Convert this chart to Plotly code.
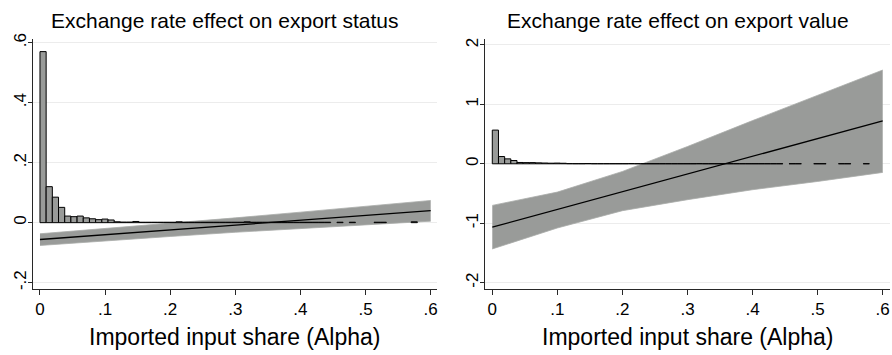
import plotly.graph_objects as go

# ---------------- data ----------------
bin_width = 0.0095
# histogram of imported input share (fraction of firms per bin), 61 bins starting at 0 (None = empty bin)
hist_status = [0.570, 0.120, 0.085, 0.051, 0.022, 0.020, 0.022, 0.016, 0.013, 0.010,
               0.012, 0.009, 0.003, 0.002, 0.002, 0.004, 0.0015, 0.0015, 0.0015, 0.0015,
               0.0015, 0.0015, 0.003, 0.0015, 0.0015, 0.0015, 0.0015, 0.0015, 0.0015, 0.0015,
               0.0015, 0.0015, 0.0015, 0.003, 0.0015, 0.0015, 0.0015, 0.0015, 0.0015, 0.0015,
               0.0015, 0.0015, 0.0015, 0.0015, 0.0015, 0.0015, 0.0015, None, 0.0015, None,
               0.0015, None, None, None, 0.0015, 0.0015, None, None, None, None,
               0.003]
hist_value = [0.567, 0.122, 0.083, 0.055, 0.022, 0.020, 0.020, 0.016, 0.013, 0.010,
              0.012, 0.009, 0.003, 0.002, 0.002, 0.004, 0.0015, 0.0015, 0.0015, 0.0015,
              0.0015, 0.0015, 0.003, 0.0015, 0.0015, 0.0015, 0.0015, 0.0015, 0.0015, 0.0015,
              0.0015, 0.0015, 0.0015, 0.003, 0.0015, 0.0015, 0.0015, 0.0015, 0.0015, 0.0015,
              0.0015, 0.0015, 0.0015, 0.0015, 0.0015, 0.0015, 0.0015, None, 0.0015, 0.0015,
              None, None, 0.0015, 0.0015, None, None, 0.0015, 0.0015, None, None,
              0.0015]

alpha_grid = [0.0, 0.1, 0.2, 0.3, 0.4, 0.5, 0.6]
# export status: marginal effect and 95% CI
status_est = [-0.056, -0.040, -0.024, -0.008, 0.008, 0.024, 0.040]
status_hi = [-0.037, -0.020, -0.002, 0.016, 0.035, 0.055, 0.074]
status_lo = [-0.076, -0.060, -0.046, -0.032, -0.019, -0.007, 0.005]
# export value: marginal effect and 95% CI
value_est = [-1.066, -0.768, -0.470, -0.172, 0.126, 0.424, 0.722]
value_hi = [-0.700, -0.476, -0.129, 0.291, 0.727, 1.158, 1.578]
value_lo = [-1.433, -1.080, -0.789, -0.604, -0.436, -0.297, -0.145]

x_ticks = [0, 0.1, 0.2, 0.3, 0.4, 0.5, 0.6]
x_ticktext = ["0", ".1", ".2", ".3", ".4", ".5", ".6"]
y1_ticks = [-0.2, 0, 0.2, 0.4, 0.6]
y1_ticktext = ["-.2", "0", ".2", ".4", ".6"]
y2_ticks = [-2, -1, 0, 1, 2]
y2_ticktext = ["-2", "-1", "0", "1", "2"]

titles = ["Exchange rate effect on export status", "Exchange rate effect on export value"]
x_title = "Imported input share (Alpha)"

# ---------------- figure ----------------
W, H = 892, 355
FONT = "Liberation Sans, Arial, Helvetica, sans-serif"
BAND = "rgb(153,155,153)"
fig = go.Figure()

centers = [bin_width * (i + 0.5) for i in range(len(hist_status))]


def px_x(p):
    return p / W


def px_y(p):
    return 1 - p / H


def add_panel(xa, ya, yh, est, hi, lo, hist):
    # CI band
    fig.add_trace(go.Scatter(x=alpha_grid, y=lo, mode="lines", line=dict(width=0.8, color="rgb(170,172,170)"),
                             xaxis=xa, yaxis=ya, showlegend=False, hoverinfo="skip"))
    fig.add_trace(go.Scatter(x=alpha_grid, y=hi, mode="lines", line=dict(width=0.8, color="rgb(170,172,170)"),
                             fill="tonexty", fillcolor=BAND,
                             xaxis=xa, yaxis=ya, showlegend=False, hoverinfo="skip"))
    fig.add_trace(go.Scatter(x=alpha_grid, y=est, mode="lines", line=dict(width=1.3, color="black"),
                             xaxis=xa, yaxis=ya, showlegend=False))
    # histogram on overlaid axis (drawn above band)
    fig.add_trace(go.Bar(x=centers, y=hist, width=bin_width,
                         marker=dict(color=BAND, line=dict(color="black", width=1)),
                         xaxis=xa, yaxis=yh, showlegend=False))


add_panel("x", "y", "y3", status_est, status_hi, status_lo, hist_status)
add_panel("x2", "y2", "y4", value_est, value_hi, value_lo, hist_value)

dom_y = [px_y(289), px_y(39)]
xd1 = [px_x(33), px_x(437)]
xd2 = [px_x(485), px_x(890)]
r_y1 = [-0.221, 0.612]
r_y2 = [-2.107, 2.10]

axis_common = dict(showline=True, linecolor="rgb(40,40,40)", linewidth=1,
                   tickcolor="rgb(40,40,40)", tickwidth=1, ticks="outside",
                   zeroline=False, automargin=False,
                   tickfont=dict(family=FONT, size=17, color="black"))

fig.update_layout(
    width=W, height=H,
    margin=dict(l=0, r=0, t=0, b=0, pad=0),
    paper_bgcolor="white", plot_bgcolor="white",
    barmode="overlay",
    showlegend=False,
    hovermode=False,
    font=dict(family=FONT, color="black"),
    xaxis=dict(domain=xd1, range=[-0.0107, 0.6097], tickvals=x_ticks, ticktext=x_ticktext,
               showgrid=False, anchor="y", ticklen=5, **axis_common),
    xaxis2=dict(domain=xd2, range=[-0.0112, 0.6112], tickvals=x_ticks, ticktext=x_ticktext,
                showgrid=False, anchor="y2", ticklen=5, **axis_common),
    yaxis=dict(domain=dom_y, range=r_y1, tickvals=y1_ticks, ticktext=y1_ticktext, tickangle=-90,
               ticklen=4, ticklabelstandoff=-5,
               showgrid=True, gridcolor="rgb(236,236,236)", gridwidth=1, anchor="x", **axis_common),
    yaxis2=dict(domain=dom_y, range=r_y2, tickvals=y2_ticks, ticktext=y2_ticktext, tickangle=-90,
                ticklen=4, ticklabelstandoff=-5,
                showgrid=True, gridcolor="rgb(236,236,236)", gridwidth=1, anchor="x2", **axis_common),
    yaxis3=dict(overlaying="y", range=r_y1, visible=False, anchor="x"),
    yaxis4=dict(overlaying="y2", range=r_y2, visible=False, anchor="x2"),
)

ann = []
for tx, cx in zip(titles, [225, 678]):
    ann.append(dict(text=tx, x=px_x(cx), y=px_y(20), xref="paper", yref="paper",
                    xanchor="center", yanchor="middle", showarrow=False,
                    font=dict(family=FONT, size=21, color="black")))
for dom in (xd1, xd2):
    ann.append(dict(text=x_title, x=(dom[0] + dom[1]) / 2, y=px_y(337), xref="paper", yref="paper",
                    xanchor="center", yanchor="middle", showarrow=False,
                    font=dict(family=FONT, size=23, color="black")))
fig.update_layout(annotations=ann)

fig.write_html("out.html", config={"displayModeBar": False, "staticPlot": True},
               post_script="document.body.style.margin='0';document.body.style.overflow='hidden';")
